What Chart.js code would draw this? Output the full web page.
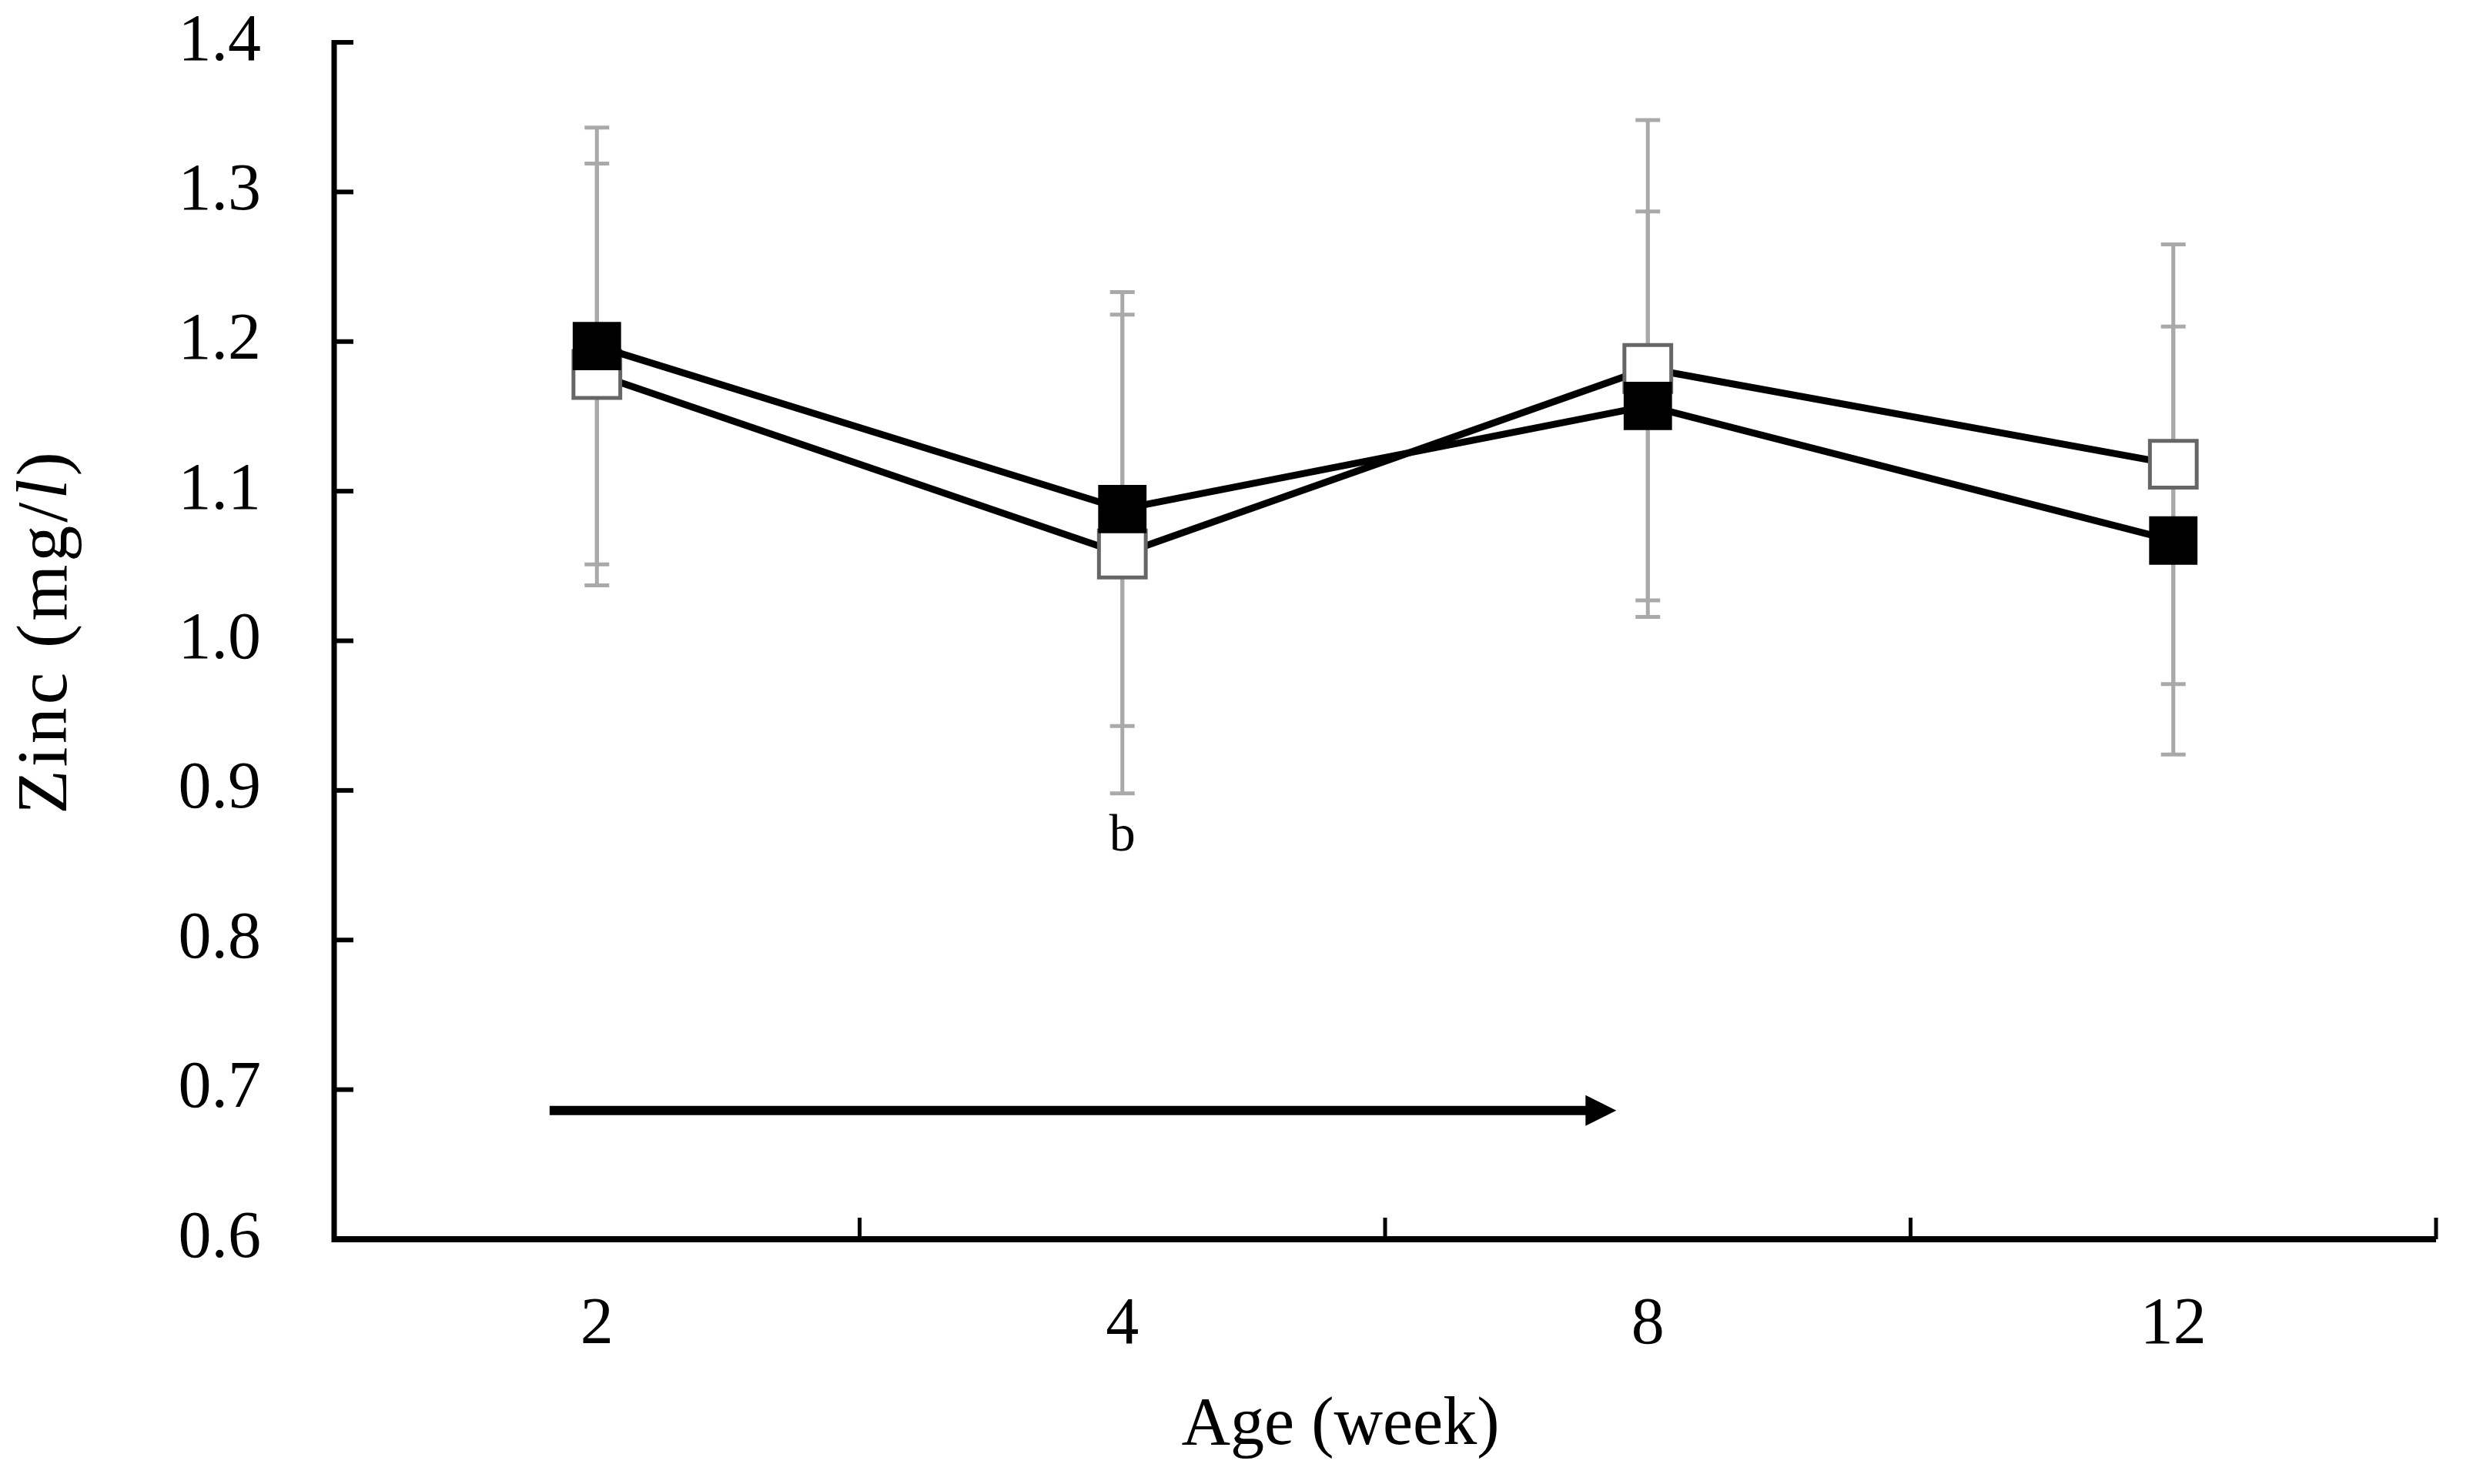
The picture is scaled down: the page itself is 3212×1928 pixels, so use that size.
<!DOCTYPE html>
<html>
<head>
<meta charset="utf-8">
<title>Zinc</title>
<script src="https://cdn.jsdelivr.net/npm/chart.js@4.4.1/dist/chart.umd.min.js"></script>
<style>
  html, body { margin: 0; padding: 0; background: #fff; }
  #myChart { display: block; }
</style>
</head>
<body>
<canvas id="myChart" width="3212" height="1928" style="width:3212px;height:1928px"></canvas>
<script>
// datos
const semanas = ["2", "4", "8", "12"];
const zincLleno = [1.197, 1.088, 1.157, 1.067];   // cuadrado negro
const sdLleno = [0.146, 0.145, 0.130, 0.143];
const zincAbierto = [1.178, 1.058, 1.182, 1.118]; // cuadrado blanco
const sdAbierto = [0.141, 0.160, 0.166, 0.147];
const letras = ["", "b", "", ""];
const ticksY = [0.6, 0.7, 0.8, 0.9, 1.0, 1.1, 1.2, 1.3, 1.4];
const flechaTramo = [-0.09, 1.94]; // en posiciones de categoria
const flechaNivel = 0.686;

const serif = '"Liberation Serif", "Times New Roman", serif';

// plugin que dibuja barras de error, ejes, etiquetas, flecha y titulos
const dibujos = {
  id: "dibujos",
  beforeDatasetsDraw(chart) {
    const ctx = chart.ctx;
    const x = chart.scales.x;
    const y = chart.scales.y;
    const area = chart.chartArea;
    ctx.save();
    // barras de error grises
    ctx.strokeStyle = "#a9a9a9";
    ctx.lineWidth = 5;
    [[zincLleno, sdLleno], [zincAbierto, sdAbierto]].forEach(([medias, sds]) => {
      medias.forEach((m, i) => {
        const px = x.getPixelForValue(i);
        const arriba = y.getPixelForValue(m + sds[i]);
        const abajo = y.getPixelForValue(m - sds[i]);
        ctx.beginPath();
        ctx.moveTo(px, arriba); ctx.lineTo(px, abajo);
        ctx.moveTo(px - 16, arriba); ctx.lineTo(px + 16, arriba);
        ctx.moveTo(px - 16, abajo); ctx.lineTo(px + 16, abajo);
        ctx.stroke();
      });
    });

    // ejes
    ctx.strokeStyle = "#000";
    ctx.lineCap = "butt";
    ctx.lineWidth = 7;
    ctx.beginPath();
    ctx.moveTo(area.left, area.top - 3);
    ctx.lineTo(area.left, area.bottom + 4);
    ctx.stroke();
    ctx.lineWidth = 8;
    ctx.beginPath();
    ctx.moveTo(area.left - 3, area.bottom);
    ctx.lineTo(area.right, area.bottom);
    ctx.stroke();

    // marcas hacia adentro
    ctx.lineWidth = 6;
    ticksY.forEach(v => {
      const py = y.getPixelForValue(v);
      ctx.beginPath();
      ctx.moveTo(area.left, py);
      ctx.lineTo(area.left + 25, py);
      ctx.stroke();
    });
    ctx.lineWidth = 5;
    semanas.forEach((s, i) => {
      const px = x.getPixelForValue(i + 0.5);
      ctx.beginPath();
      ctx.moveTo(px, area.bottom);
      ctx.lineTo(px, area.bottom - 28);
      ctx.stroke();
    });

    // etiquetas de los ejes
    ctx.fillStyle = "#000";
    ctx.font = "86px " + serif;
    ctx.textBaseline = "middle";
    ctx.textAlign = "right";
    ticksY.forEach(v => {
      ctx.fillText(v.toFixed(1), area.left - 95, y.getPixelForValue(v));
    });
    ctx.textAlign = "center";
    semanas.forEach((s, i) => {
      ctx.fillText(s, x.getPixelForValue(i), area.bottom + 112);
    });

    // flecha
    const fy = y.getPixelForValue(flechaNivel);
    const fx0 = x.getPixelForValue(flechaTramo[0]);
    const fx1 = x.getPixelForValue(flechaTramo[1]);
    ctx.lineWidth = 12;
    ctx.beginPath();
    ctx.moveTo(fx0, fy);
    ctx.lineTo(fx1 - 36, fy);
    ctx.stroke();
    ctx.beginPath();
    ctx.moveTo(fx1 - 40, fy - 20);
    ctx.lineTo(fx1, fy);
    ctx.lineTo(fx1 - 40, fy + 20);
    ctx.closePath();
    ctx.fill();

    // letras de significancia
    ctx.font = "68px " + serif;
    letras.forEach((t, i) => {
      if (!t) return;
      const bajo = Math.min(zincLleno[i] - sdLleno[i], zincAbierto[i] - sdAbierto[i]);
      ctx.fillText(t, x.getPixelForValue(i), y.getPixelForValue(bajo) + 56);
    });

    // titulo eje x
    ctx.font = "88px " + serif;
    ctx.fillText("Age (week)", (area.left + area.right) / 2 - 58, area.bottom + 243);

    // titulo eje y, con la l en cursiva
    const partes = [["Zinc (mg/", "normal"], ["l", "italic"], [")", "normal"]];
    ctx.letterSpacing = "4px";
    let total = 0;
    partes.forEach(p => {
      ctx.font = p[1] + " 94px " + serif;
      total += ctx.measureText(p[0]).width;
    });
    ctx.translate(61, (area.top + area.bottom) / 2 - 12);
    ctx.rotate(-Math.PI / 2);
    ctx.textAlign = "left";
    let cx = -total / 2;
    partes.forEach(p => {
      ctx.font = p[1] + " 94px " + serif;
      ctx.fillText(p[0], cx, 0);
      cx += ctx.measureText(p[0]).width;
    });
    ctx.restore();
  }
};

new Chart(document.getElementById("myChart"), {
  type: "line",
  data: {
    labels: semanas,
    datasets: [
      {
        label: "lleno",
        data: zincLleno,
        borderColor: "#000",
        borderWidth: 9,
        pointStyle: "rect",
        pointRadius: 43,
        pointBackgroundColor: "#000",
        pointBorderColor: "#000",
        pointBorderWidth: 2
      },
      {
        label: "abierto",
        data: zincAbierto,
        borderColor: "#000",
        borderWidth: 9,
        pointStyle: "rect",
        pointRadius: 43,
        pointBackgroundColor: "#fff",
        pointBorderColor: "#666",
        pointBorderWidth: 5
      }
    ]
  },
  options: {
    responsive: false,
    animation: false,
    devicePixelRatio: 1,
    layout: { padding: { top: 55, right: 26, left: 0, bottom: 0 } },
    plugins: { legend: { display: false }, tooltip: { enabled: false } },
    scales: {
      x: {
        type: "category",
        offset: true,
        grid: { display: false, drawTicks: false },
        border: { display: false },
        ticks: { display: false },
        afterFit: s => { s.height = 318; }
      },
      y: {
        min: 0.6,
        max: 1.4,
        grid: { display: false, drawTicks: false },
        border: { display: false },
        ticks: { display: false },
        afterFit: s => { s.width = 434; }
      }
    }
  },
  plugins: [dibujos]
});
</script>
</body>
</html>
